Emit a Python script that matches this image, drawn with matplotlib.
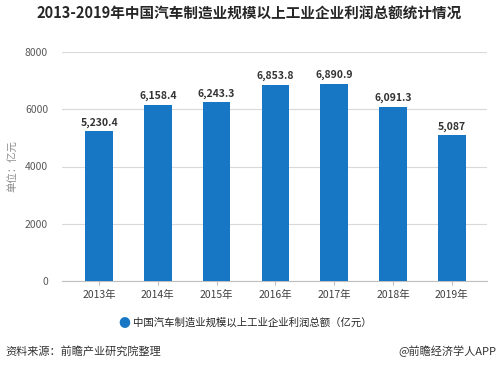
import numpy as np
import matplotlib.pyplot as plt

plt.rcParams['font.family'] = ['Noto Sans CJK SC', 'DejaVu Sans']

years = ['2013年', '2014年', '2015年', '2016年', '2017年', '2018年', '2019年']
profit = [5230.4, 6158.4, 6243.3, 6853.8, 6890.9, 6091.3, 5087]
labels = ['5,230.4', '6,158.4', '6,243.3', '6,853.8', '6,890.9', '6,091.3', '5,087']

fig = plt.figure(figsize=(4.99, 3.73), dpi=100)
ax = fig.add_axes([62/499, 1 - 281/373, 425/499, 229/373])

x = np.arange(len(years))
ax.bar(x, profit, width=0.47, color='#1777c4', zorder=3)
for xi, v, s in zip(x, profit, labels):
    ax.text(xi, v + 120, s, ha='center', va='bottom', fontsize=7.5,
            fontweight='bold', color='#333333')

ax.set_ylim(0, 8000)
ax.set_xlim(-0.63, 6.6)
ax.set_yticks([0, 2000, 4000, 6000, 8000])
ax.set_xticks(x)
ax.set_xticklabels(years)
ax.yaxis.grid(True, color='#d9d9d9', linewidth=0.8, zorder=0)
for s in ['top', 'right', 'left']:
    ax.spines[s].set_visible(False)
ax.spines['bottom'].set_color('#bfbfbf')
ax.tick_params(axis='y', length=0, labelsize=7.5, labelcolor='#595959', pad=10)
ax.tick_params(axis='x', length=3, color='#bfbfbf', labelsize=7.5, labelcolor='#404040')
ax.set_ylabel('单位：亿元', fontsize=7.5, color='#8c8c8c', labelpad=5)

fig.text(0.5, 1 - 14/373, '2013-2019年中国汽车制造业规模以上工业企业利润总额统计情况',
         ha='center', va='center', fontsize=10.5, fontweight='bold', color='#262626')

fig.text(124/499, 1 - 323/373, '●', ha='center', va='center', fontsize=8.5, color='#1777c4')
fig.text(133/499, 1 - 323/373, '中国汽车制造业规模以上工业企业利润总额（亿元）',
         ha='left', va='center', fontsize=7.5, color='#262626')

fig.text(5/499, 1 - 351/373, '资料来源：前瞻产业研究院整理', ha='left', va='center',
         fontsize=8, color='#333333')
fig.text(496/499, 1 - 351/373, '@前瞻经济学人APP', ha='right', va='center',
         fontsize=8, color='#333333')

fig.savefig('out.png', dpi=100)
